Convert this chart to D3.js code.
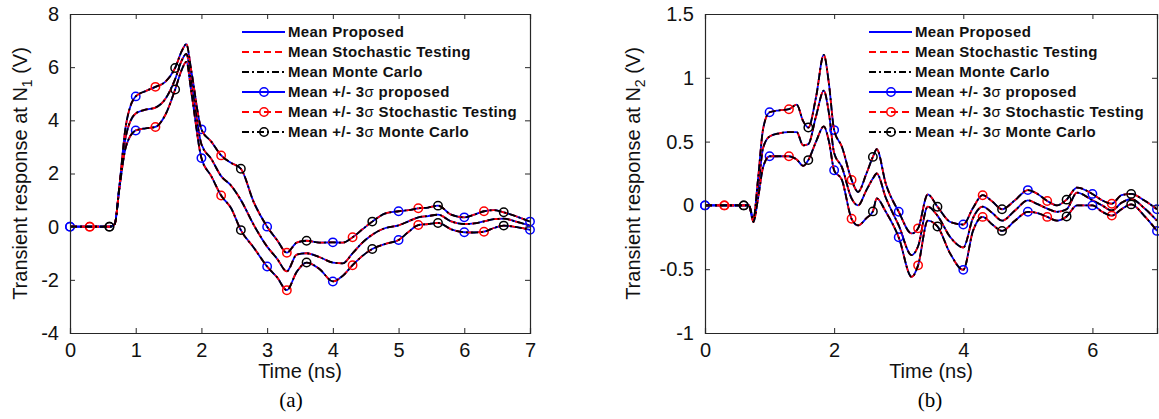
<!DOCTYPE html>
<html>
<head>
<meta charset="utf-8">
<script src="https://cdn.jsdelivr.net/npm/d3@7"></script>
<style>
  body { margin: 0; background: #fff; }
  text { font-family: "Liberation Sans", Arial, sans-serif; }
  text.caption { font-family: "Liberation Serif", "Times New Roman", serif; }
</style>
</head>
<body>
<svg id="fig" width="1159" height="419"></svg>
<script>
// ---- panel (a): transient response at N1 ----
var tA = [0, 0.3, 0.6, 0.68, 0.75, 0.85, 1.0, 1.15, 1.3, 1.45, 1.6, 1.7, 1.77, 1.85, 2.0, 2.15, 2.3, 2.45, 2.6, 2.8,
          3.0, 3.15, 3.3, 3.45, 3.6, 3.8, 4.0, 4.15, 4.3, 4.45, 4.6, 4.8, 5.0, 5.15, 5.3, 5.45, 5.6, 5.8,
          6.0, 6.15, 6.3, 6.45, 6.6, 6.8, 7.0];
var meanA = [0, 0, 0, 0.1, 1.45, 3.4, 4.26, 4.4, 4.48, 4.8, 5.55, 6.25, 6.5, 5.4, 3.1, 2.55, 1.9, 1.55, 1.0, 0.05,
             -0.75, -1.2, -1.68, -1.05, -1.0, -1.15, -1.35, -1.38, -1.0, -0.6, -0.3, -0.05, 0.05, 0.2, 0.35, 0.4, 0.45, 0.2,
             0.1, 0.12, 0.2, 0.28, 0.3, 0.18, 0.04];
var upA = [0, 0, 0, 0.1, 1.5, 3.8, 4.9, 5.1, 5.26, 5.45, 5.97, 6.6, 6.87, 5.8, 3.66, 3.2, 2.68, 2.4, 2.18, 0.9,
           0.0, -0.5, -0.98, -0.6, -0.53, -0.6, -0.59, -0.6, -0.4, -0.1, 0.19, 0.5, 0.58, 0.62, 0.69, 0.72, 0.79, 0.45,
           0.35, 0.45, 0.58, 0.62, 0.54, 0.38, 0.19];
var loA = [0, 0, 0, 0.1, 1.4, 3.0, 3.62, 3.7, 3.75, 4.2, 5.16, 5.9, 6.2, 5.0, 2.58, 1.9, 1.17, 0.7, -0.13, -0.8,
           -1.5, -1.9, -2.39, -1.7, -1.35, -1.6, -2.06, -1.85, -1.45, -1.1, -0.84, -0.65, -0.5, -0.2, 0.06, 0.1, 0.14, -0.1,
           -0.21, -0.22, -0.19, -0.05, 0.04, -0.02, -0.12];
var blueMarksA = [0, 1.0, 2.0, 3.0, 4.0, 5.0, 6.0, 7.0];
var redMarksA = [0.3, 1.3, 2.3, 3.3, 4.3, 5.3, 6.3];
var blackMarksA = [0.6, 1.6, 2.6, 3.6, 4.6, 5.6, 6.6];
var xTicksA = [0, 1, 2, 3, 4, 5, 6, 7];
var yTicksA = [-4, -2, 0, 2, 4, 6, 8];

// ---- panel (b): transient response at N2 ----
var tB = [0, 0.3, 0.6, 0.68, 0.75, 0.82, 0.9, 1.0, 1.15, 1.3, 1.42, 1.52, 1.6, 1.72, 1.84, 1.92, 2.0, 2.12, 2.27, 2.37,
          2.5, 2.6, 2.66, 2.8, 3.0, 3.2, 3.3, 3.45, 3.6, 3.8, 4.0, 4.15, 4.3, 4.45, 4.6, 4.8, 5.0, 5.15, 5.3, 5.45,
          5.6, 5.76, 6.0, 6.15, 6.3, 6.45, 6.6, 6.8, 7.0];
var meanB = [0, 0, 0, 0, -0.12, 0.12, 0.45, 0.54, 0.565, 0.575, 0.575, 0.47, 0.48, 0.7, 0.9, 0.72, 0.41, 0.3, 0.055, 0.0,
             0.12, 0.21, 0.25, 0.06, -0.157, -0.39, -0.32, -0.01, -0.08, -0.25, -0.33, -0.1, -0.01, -0.06, -0.12, -0.04, 0.04, 0.01, -0.025, -0.05,
             -0.03, 0.1, 0.04, 0.0, -0.04, 0.02, 0.05, -0.02, -0.12];
var upB = [0, 0, 0, 0, -0.1, 0.2, 0.6, 0.73, 0.745, 0.754, 0.79, 0.66, 0.61, 0.85, 1.18, 0.95, 0.59, 0.46, 0.2, 0.105,
           0.25, 0.38, 0.44, 0.17, -0.05, -0.22, -0.18, 0.086, -0.01, -0.13, -0.15, -0.02, 0.08, 0.03, -0.03, 0.04, 0.12, 0.09, 0.035, 0.0,
           0.045, 0.14, 0.09, 0.04, 0.013, 0.08, 0.09, 0.04, -0.03];
var loB = [0, 0, 0, 0, -0.13, 0.05, 0.3, 0.385, 0.385, 0.385, 0.36, 0.31, 0.355, 0.5, 0.62, 0.5, 0.275, 0.2, -0.105, -0.157,
           -0.1, -0.047, 0.055, -0.05, -0.25, -0.56, -0.47, -0.12, -0.165, -0.38, -0.505, -0.2, -0.09, -0.15, -0.2, -0.12, -0.05, -0.06, -0.09, -0.12,
           -0.087, 0.0, 0.0, -0.05, -0.08, -0.03, 0.008, -0.08, -0.2];
var blueMarksB = [0, 1.0, 2.0, 3.0, 4.0, 5.0, 6.0, 7.0];
var redMarksB = [0.3, 1.3, 2.27, 3.3, 4.3, 5.3, 6.3];
var blackMarksB = [0.6, 1.6, 2.6, 3.6, 4.6, 5.6, 6.6];
var xTicksB = [0, 2, 4, 6];
var yTicksB = [-1, -0.5, 0, 0.5, 1, 1.5];

var legendLabels = ["Mean Proposed", "Mean Stochastic Testing", "Mean Monte Carlo",
                    "Mean +/- 3\u03C3 proposed", "Mean +/- 3\u03C3 Stochastic Testing", "Mean +/- 3\u03C3 Monte Carlo"];

var styles = [
    { color: "#0000ff", dash: null },
    { color: "#ff0000", dash: "7,4" },
    { color: "#000000", dash: "7,3,2,3" }
];

var svg = d3.select("#fig");

function drawPanel(p) {
    var x = d3.scaleLinear().domain([0, 7]).range([p.left, p.right]);
    var y = d3.scaleLinear().domain(p.yDomain).range([p.bottom, p.top]);
    var g = svg.append("g");

    var line = d3.line()
        .x(function(d) { return x(d[0]); })
        .y(function(d) { return y(d[1]); })
        .curve(d3.curveMonotoneX);

    function pts(vals) { return p.t.map(function(t, i) { return [t, vals[i]]; }); }

    // means first, then +/- 3 sigma curves with markers
    styles.forEach(function(s) {
        g.append("path").datum(pts(p.mean))
            .attr("d", line).attr("fill", "none")
            .attr("stroke", s.color).attr("stroke-width", 1.8)
            .attr("stroke-dasharray", s.dash);
    });
    styles.forEach(function(s, k) {
        [p.up, p.lo].forEach(function(vals) {
            g.append("path").datum(pts(vals))
                .attr("d", line).attr("fill", "none")
                .attr("stroke", s.color).attr("stroke-width", 1.8)
                .attr("stroke-dasharray", s.dash);
            g.selectAll(null)
                .data(p.marks[k])
                .enter().append("circle")
                .attr("cx", function(t) { return x(t); })
                .attr("cy", function(t) { return y(vals[p.t.indexOf(t)]); })
                .attr("r", 4.2)
                .attr("fill", "none")
                .attr("stroke", s.color)
                .attr("stroke-width", 1.5);
        });
    });

    // axes box with inward ticks on all four sides
    var fmt = function(d) { return String(d); };
    g.append("g").attr("transform", "translate(0," + p.bottom + ")")
        .call(d3.axisBottom(x).tickValues(p.xTicks).tickSize(-5).tickPadding(10).tickFormat(fmt));
    g.append("g").attr("transform", "translate(0," + p.top + ")")
        .call(d3.axisTop(x).tickValues(p.xTicks).tickSize(-5).tickFormat(""));
    g.append("g").attr("transform", "translate(" + p.left + ",0)")
        .call(d3.axisLeft(y).tickValues(p.yTicks).tickSize(-5).tickPadding(11).tickFormat(fmt));
    g.append("g").attr("transform", "translate(" + p.right + ",0)")
        .call(d3.axisRight(y).tickValues(p.yTicks).tickSize(-5).tickFormat(""));
    g.selectAll(".domain").attr("stroke", "#262626").attr("stroke-width", 1.2);
    g.selectAll(".tick line").attr("stroke", "#262626");
    g.selectAll(".tick text").attr("font-size", 20).attr("fill", "#111")
        .attr("font-family", null);

    // axis labels
    g.append("text").attr("x", (p.left + p.right) / 2).attr("y", 378)
        .attr("text-anchor", "middle").attr("font-size", 20).attr("fill", "#111")
        .text("Time (ns)");
    var yl = g.append("text")
        .attr("transform", "translate(" + p.ylabelX + "," + ((p.top + p.bottom) / 2) + ") rotate(-90)")
        .attr("text-anchor", "middle").attr("dy", "0.35em").attr("font-size", 20).attr("fill", "#111");
    yl.append("tspan").text("Transient response at N");
    yl.append("tspan").attr("font-size", 14).attr("dy", 5).text(p.sub);
    yl.append("tspan").attr("dy", -5).text(" (V)");

    g.append("text").attr("class", "caption").attr("x", p.capX).attr("y", 407)
        .attr("text-anchor", "middle").attr("font-size", 21)
        .text(p.caption);

    // legend
    var lx = p.right - 242;
    legendLabels.forEach(function(lab, i) {
        var s = styles[i % 3];
        var ly = 32 + i * 20;
        g.append("line").attr("x1", lx - 46).attr("x2", lx - 3)
            .attr("y1", ly).attr("y2", ly)
            .attr("stroke", s.color).attr("stroke-width", 1.8)
            .attr("stroke-dasharray", s.dash);
        if (i >= 3) {
            g.append("circle").attr("cx", lx - 24).attr("cy", ly).attr("r", 4.2)
                .attr("fill", "none").attr("stroke", s.color).attr("stroke-width", 1.5);
        }
        var t = g.append("text").attr("x", lx).attr("y", ly + 5)
            .attr("font-size", 15).attr("font-weight", "bold").attr("fill", "#111")
            .attr("letter-spacing", 0.35);
        var parts = lab.split("\u03C3");
        t.append("tspan").text(parts[0]);
        if (parts.length > 1) {
            t.append("tspan").attr("font-weight", "normal").text("\u03C3");
            t.append("tspan").text(parts[1]);
        }
    });
}

drawPanel({ left: 70, right: 530, top: 14, bottom: 333, yDomain: [-4, 8],
            t: tA, mean: meanA, up: upA, lo: loA,
            marks: [blueMarksA, redMarksA, blackMarksA],
            xTicks: xTicksA, yTicks: yTicksA, ylabelX: 20, sub: "1", capX: 291, caption: "(a)" });
drawPanel({ left: 705, right: 1157, top: 14, bottom: 333, yDomain: [-1, 1.5],
            t: tB, mean: meanB, up: upB, lo: loB,
            marks: [blueMarksB, redMarksB, blackMarksB],
            xTicks: xTicksB, yTicks: yTicksB, ylabelX: 633, sub: "2", capX: 930, caption: "(b)" });
</script>
</body>
</html>
